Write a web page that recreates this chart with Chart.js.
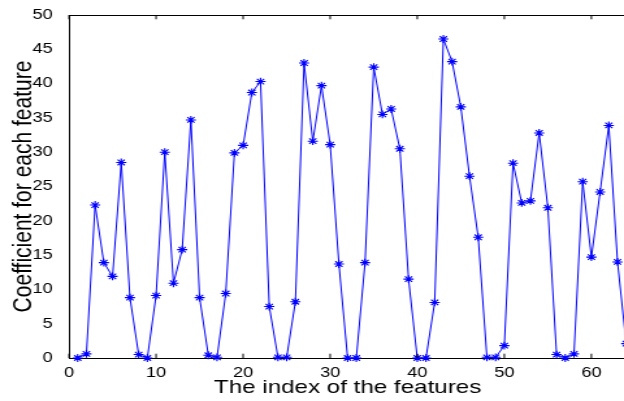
<!DOCTYPE html>
<html>
<head>
<meta charset="utf-8">
<script src="https://cdn.jsdelivr.net/npm/chart.js@4"></script>
<style>
  html, body { margin: 0; padding: 0; background: #fff; overflow: hidden; width: 624px; height: 401px; }
  #wrap { width: 490px; height: 401px; transform: scaleX(1.3); transform-origin: 0 0; }
</style>
</head>
<body>
<div id="wrap"><canvas id="c" width="490" height="401"></canvas></div>
<script>
const features = [1,2,3,4,5,6,7,8,9,10,11,12,13,14,15,16,17,18,19,20,21,22,23,24,25,26,27,28,29,30,31,32,33,34,35,36,37,38,39,40,41,42,43,44,45,46,47,48,49,50,51,52,53,54,55,56,57,58,59,60,61,62,63,64];
const coefficients = [0,0.6,22.3,13.9,11.9,28.5,8.8,0.5,0,9.1,30,10.9,15.8,34.7,8.8,0.4,0.1,9.4,29.9,31,38.7,40.3,7.5,0.1,0.1,8.2,43,31.6,39.7,31.1,13.7,0,0,13.9,42.4,35.5,36.3,30.5,11.5,0,0,8.1,46.5,43.2,36.6,26.5,17.6,0.1,0.1,1.8,28.4,22.6,22.9,32.8,21.9,0.5,0,0.6,25.7,14.7,24.2,33.9,14.0,2.1];
const xTicks = [0,10,20,30,40,50,60];
const yTicks = [0,5,10,15,20,25,30,35,40,45,50];
const xTitle = 'The index of the features';
const yTitle = 'Coefficient for each feature';

const FONT = '"Liberation Sans", Arial, Helvetica, sans-serif';

const boxPlugin = {
  id: 'box',
  afterDraw(chart) {
    const {ctx, chartArea: a, scales} = chart;
    ctx.save();
    ctx.strokeStyle = '#000';
    ctx.lineWidth = 1;
    ctx.beginPath();
    ctx.moveTo(a.left, a.top + 0.5);
    ctx.lineTo(a.right, a.top + 0.5);
    ctx.moveTo(a.right, a.top);
    ctx.lineTo(a.right, a.bottom);
    const tl = 4.3;
    xTicks.forEach(v => {
      const px = scales.x.getPixelForValue(v);
      ctx.moveTo(px, a.bottom);
      ctx.lineTo(px, a.bottom - tl);
      ctx.moveTo(px, a.top);
      ctx.lineTo(px, a.top + tl);
    });
    ctx.stroke();
    ctx.restore();
  }
};

new Chart(document.getElementById('c'), {
  type: 'line',
  data: {
    datasets: [{
      data: features.map((f, i) => ({x: f, y: coefficients[i]})),
      borderColor: '#0000ff',
      backgroundColor: '#0000ff',
      borderWidth: 1,
      pointStyle: 'star',
      pointRadius: 3.9,
      pointBorderWidth: 1.1,
      pointBorderColor: '#0000ff',
      tension: 0,
      fill: false,
      clip: false
    }]
  },
  options: {
    responsive: false,
    animation: false,
    events: [],
    layout: { padding: { left: 0, right: 8.3, top: 15, bottom: 0 } },
    plugins: { legend: { display: false }, tooltip: { enabled: false } },
    scales: {
      x: {
        type: 'linear',
        min: 0, max: 64,
        afterBuildTicks: s => { s.ticks = xTicks.map(v => ({value: v})); },
        afterFit: s => { s.height = 43; },
        grid: { display: false },
        border: { display: true, color: '#000', width: 1 },
        ticks: { padding: -1, color: '#000', font: { family: FONT, size: 14 }, maxRotation: 0, autoSkip: false },
        title: { display: true, text: xTitle, color: '#000', font: { family: FONT, size: 18.6 }, padding: { top: 0, bottom: 2 } }
      },
      y: {
        type: 'linear',
        min: 0, max: 50,
        afterBuildTicks: s => { s.ticks = yTicks.map(v => ({value: v})); },
        afterFit: s => { s.width = 53.08; },
        grid: { display: false },
        border: { display: true, color: '#000', width: 1 },
        ticks: { padding: 4.5, color: '#000', font: { family: FONT, size: 14 }, autoSkip: false },
        title: { display: true, text: yTitle, color: '#000', font: { family: FONT, size: 21 }, padding: 6 }
      }
    }
  },
  plugins: [boxPlugin]
});
</script>
</body>
</html>
